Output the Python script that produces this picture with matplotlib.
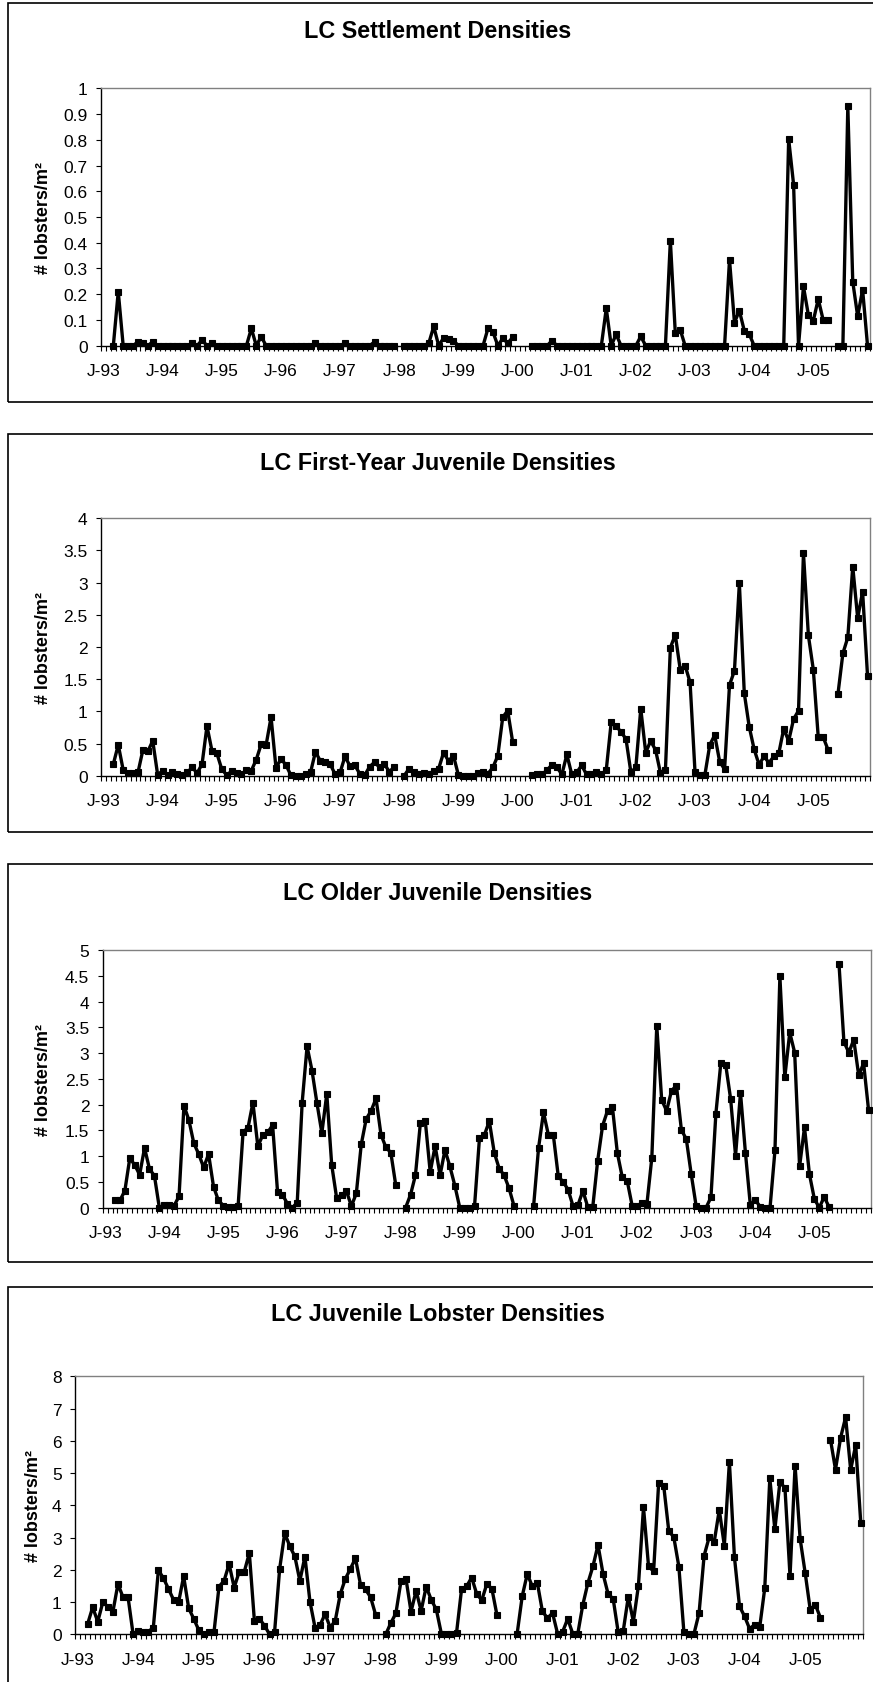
import numpy as np
import pandas as pd
import matplotlib
matplotlib.use('Agg')
import matplotlib.pyplot as plt
from matplotlib.patches import Rectangle
from matplotlib.ticker import FixedLocator, FuncFormatter

plt.rcParams['font.family'] = ['Liberation Sans', 'DejaVu Sans']

nan = np.nan

# monthly categories Jan-93 .. Dec-05
months = pd.date_range('1993-01-01', periods=156, freq='MS')
tick_labels = ['J-' + d.strftime('%y') for d in months[::12]]

settlement = [
    nan, nan, 0, 0.21, 0, 0, 0, 0.015, 0.01, 0, 0.015, 0,
    0, 0, 0, 0, 0, 0, 0.01, 0, 0.022, 0, 0.01, 0,
    0, 0, 0, 0, 0, 0, 0.067, 0, 0.035, 0, 0, 0,
    0, 0, 0, 0, 0, 0, 0, 0.01, 0, 0, 0, 0,
    0, 0.01, 0, 0, 0, 0, 0, 0.015, 0, 0, 0, 0,
    nan, 0, 0, 0, 0, 0, 0.01, 0.075, 0, 0.03, 0.025, 0.02,
    0, 0, 0, 0, 0, 0, 0.067, 0.054, 0, 0.028, 0.01, 0.032,
    nan, nan, nan, 0, 0, 0, 0, 0.02, 0, 0, 0, 0,
    0, 0, 0, 0, 0, 0, 0.145, 0, 0.044, 0, 0, 0,
    0, 0.036, 0, 0, 0, 0, 0, 0.408, 0.05, 0.062, 0, 0,
    0, 0, 0, 0, 0, 0, 0, 0.334, 0.09, 0.136, 0.058, 0.045,
    0, 0, 0, 0, 0, 0, 0, 0.803, 0.626, 0, 0.23, 0.119,
    0.097, 0.181, 0.1, 0.1, nan, 0, 0, 0.93, 0.249, 0.114, 0.218, 0,
]

first_year = [
    nan, nan, 0.18, 0.48, 0.09, 0.04, 0.04, 0.05, 0.40, 0.38, 0.54, 0.01,
    0.08, 0.01, 0.05, 0.02, 0.01, 0.05, 0.13, 0.04, 0.18, 0.77, 0.39, 0.35,
    0.10, 0.01, 0.07, 0.04, 0.02, 0.09, 0.08, 0.25, 0.49, 0.48, 0.91, 0.12,
    0.26, 0.17, 0.01, 0, 0, 0.02, 0.05, 0.37, 0.23, 0.21, 0.18, 0.02,
    0.05, 0.30, 0.15, 0.16, 0.03, 0.01, 0.14, 0.21, 0.13, 0.18, 0.06, 0.14,
    nan, 0.0, 0.11, 0.05, 0.02, 0.04, 0.02, 0.08, 0.11, 0.36, 0.23, 0.31,
    0.01, 0, 0, 0, 0.04, 0.06, 0.03, 0.13, 0.31, 0.91, 1.01, 0.53,
    nan, nan, nan, 0.01, 0.02, 0.02, 0.09, 0.17, 0.13, 0.02, 0.33, 0.02,
    0.05, 0.16, 0.02, 0.02, 0.05, 0.02, 0.09, 0.83, 0.77, 0.68, 0.57, 0.05,
    0.13, 1.04, 0.36, 0.54, 0.40, 0.04, 0.09, 1.99, 2.19, 1.65, 1.71, 1.45,
    0.06, 0.01, 0.01, 0.48, 0.63, 0.22, 0.10, 1.41, 1.63, 2.99, 1.28, 0.76,
    0.41, 0.17, 0.30, 0.20, 0.30, 0.35, 0.73, 0.54, 0.88, 1.01, 3.46, 2.18,
    1.65, 0.60, 0.60, 0.40, nan, 1.27, 1.90, 2.15, 3.25, 2.45, 2.86, 1.55,
]

older_juv = [
    nan, nan, 0.15, 0.14, 0.33, 0.96, 0.83, 0.64, 1.16, 0.75, 0.62, 0.0,
    0.05, 0.05, 0.04, 0.22, 1.98, 1.70, 1.25, 1.04, 0.78, 1.04, 0.41, 0.14,
    0.04, 0.01, 0.01, 0.04, 1.47, 1.55, 2.04, 1.19, 1.41, 1.46, 1.60, 0.31,
    0.25, 0.08, 0.0, 0.10, 2.04, 3.13, 2.66, 2.03, 1.45, 2.21, 0.83, 0.19,
    0.25, 0.32, 0.03, 0.28, 1.23, 1.72, 1.88, 2.12, 1.42, 1.17, 1.07, 0.44,
    nan, 0.0, 0.25, 0.63, 1.64, 1.68, 0.69, 1.20, 0.63, 1.12, 0.80, 0.43,
    0.0, 0.0, 0.0, 0.03, 1.35, 1.41, 1.68, 1.07, 0.76, 0.63, 0.38, 0.04,
    nan, nan, nan, 0.04, 1.16, 1.85, 1.41, 1.41, 0.61, 0.50, 0.35, 0.03,
    0.05, 0.33, 0.01, 0.01, 0.91, 1.59, 1.88, 1.95, 1.06, 0.59, 0.52, 0.04,
    0.04, 0.09, 0.07, 0.97, 3.53, 2.09, 1.88, 2.27, 2.37, 1.51, 1.33, 0.65,
    0.03, 0.0, 0.0, 0.20, 1.82, 2.80, 2.77, 2.11, 1.01, 2.23, 1.07, 0.05,
    0.15, 0.02, 0.0, 0.0, 1.11, 4.49, 2.53, 3.40, 3.01, 0.80, 1.56, 0.65,
    0.17, 0.0, 0.21, 0.01, nan, 4.73, 3.22, 3.01, 3.26, 2.57, 2.80, 1.90,
]

juv_total = [
    nan, nan, 0.32, 0.84, 0.39, 0.99, 0.86, 0.70, 1.56, 1.15, 1.15, 0.0,
    0.11, 0.08, 0.08, 0.21, 1.99, 1.74, 1.41, 1.07, 0.99, 1.80, 0.81, 0.48,
    0.13, 0.0, 0.06, 0.06, 1.48, 1.66, 2.18, 1.45, 1.94, 1.94, 2.52, 0.42,
    0.48, 0.27, 0.0, 0.08, 2.03, 3.14, 2.73, 2.42, 1.66, 2.41, 1.01, 0.21,
    0.29, 0.63, 0.21, 0.42, 1.25, 1.72, 2.03, 2.36, 1.54, 1.39, 1.15, 0.60,
    nan, 0.0, 0.35, 0.65, 1.64, 1.72, 0.70, 1.35, 0.73, 1.48, 1.07, 0.77,
    0.02, 0.02, 0.02, 0.04, 1.40, 1.49, 1.76, 1.25, 1.06, 1.56, 1.41, 0.60,
    nan, nan, nan, 0.02, 1.18, 1.87, 1.49, 1.59, 0.71, 0.50, 0.66, 0.02,
    0.08, 0.48, 0.02, 0.02, 0.92, 1.59, 2.11, 2.77, 1.87, 1.25, 1.10, 0.06,
    0.11, 1.17, 0.39, 1.51, 3.94, 2.11, 1.95, 4.69, 4.61, 3.21, 3.01, 2.10,
    0.06, 0.02, 0.02, 0.66, 2.44, 3.01, 2.87, 3.86, 2.75, 5.35, 2.39, 0.87,
    0.56, 0.17, 0.30, 0.22, 1.43, 4.84, 3.25, 4.73, 4.53, 1.80, 5.23, 2.96,
    1.90, 0.76, 0.92, 0.52, nan, 6.04, 5.11, 6.09, 6.73, 5.10, 5.87, 3.45,
]

titles = ['LC Settlement Densities', 'LC First-Year Juvenile Densities',
          'LC Older Juvenile Densities', 'LC Juvenile Lobster Densities']
series = [settlement, first_year, older_juv, juv_total]
y_max = [1, 4, 5, 8]
y_step = [0.1, 0.5, 0.5, 1]

W, H = 873, 1683
fig = plt.figure(figsize=(W / 100, H / 100), dpi=100)

# pixel layout: chart box (top, bottom), plot area (left, right, top, bottom), title y, ylabel x
layout = [
    ((4, 403), (101, 870, 89.3, 346.7), 32, 43),
    ((435, 833), (101, 870, 519.3, 776.7), 463.5, 43),
    ((865, 1263), (102.7, 871, 951, 1208.7), 894, 44),
    ((1288, 1720), (75, 863.3, 1377.3, 1635.3), 1315, 33),
]

x = np.arange(len(months))

for k in range(4):
    (bt, bb), (l, r, t, b), ty, lx = layout[k]
    fig.patches.append(Rectangle((7.5 / W, 1 - bb / H), 1.0, (bb - bt) / H,
                                 transform=fig.transFigure, fill=False,
                                 edgecolor='black', lw=1.2))
    ax = fig.add_axes([l / W, 1 - b / H, (r - l) / W, (b - t) / H])
    y = np.array(series[k], dtype=float)
    ax.plot(x, y, color='black', lw=2.4, marker='s', ms=4, mew=0.8,
            clip_on=False, zorder=5)
    ax.set_xlim(-0.5, len(months) - 0.5)
    ax.set_ylim(0, y_max[k])
    yt = np.round(np.arange(0, y_max[k] + y_step[k] / 2, y_step[k]), 2)
    ax.set_yticks(yt)
    ax.yaxis.set_major_formatter(FuncFormatter(lambda v, p: f'{v:g}'))
    ax.set_xticks(x[::12])
    ax.set_xticklabels(tick_labels)
    ax.xaxis.set_minor_locator(FixedLocator(np.arange(len(months) + 1) - 0.5))
    ax.tick_params(axis='x', which='major', length=0, pad=12.5, labelsize=12.5)
    ax.tick_params(axis='x', which='minor', length=3.6, width=0.8, direction='out')
    ax.tick_params(axis='y', length=3.6, width=0.8, direction='out', pad=6,
                   labelsize=12.5)
    for s in ['top', 'right']:
        ax.spines[s].set_color('#808080')
        ax.spines[s].set_linewidth(1.0)
    for s in ['left', 'bottom']:
        ax.spines[s].set_color('black')
        ax.spines[s].set_linewidth(1.0)
    fig.text(438 / W, 1 - ty / H, titles[k], ha='center', va='center',
             fontsize=16.8, fontweight='bold')
    fig.text(lx / W, 1 - (t + b) / 2 / H, '# lobsters/m²', rotation=90,
             ha='center', va='center', fontsize=13, fontweight='bold')

fig.savefig('out.png', dpi=100)
